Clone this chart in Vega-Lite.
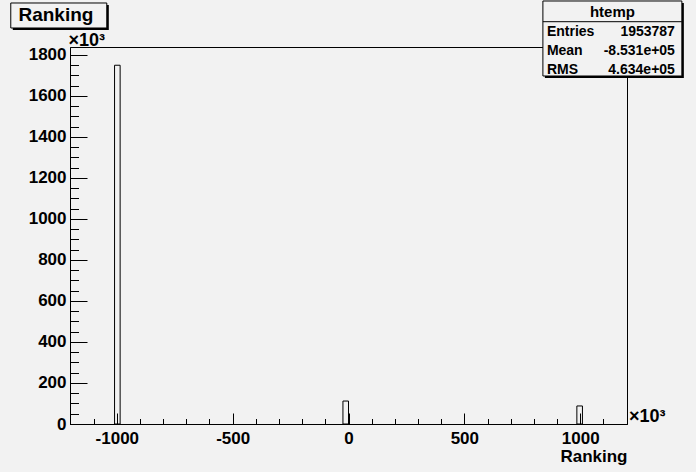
{
  "$schema": "https://vega.github.io/schema/vega-lite/v6.json",
  "width": 557,
  "height": 377,
  "autosize": {"type": "none"},
  "padding": {"left": 70, "top": 47, "right": 69, "bottom": 48},
  "background": "#f2f2f2",
  "config": {
    "view": {"stroke": "black", "strokeWidth": 1, "fill": "#f2f2f2"},
    "font": "Liberation Sans",
    "text": {"font": "Liberation Sans", "fontWeight": "bold", "color": "black"}
  },
  "layer": [
    {
      "data": {"values": [
        {"bin_start": -1009.7, "bin_end": -985.6, "count": 1750},
        {"bin_start": -24.0, "bin_end": 0.0, "count": 112},
        {"bin_start": 985.6, "bin_end": 1009.7, "count": 88}
      ]},
      "mark": {"type": "rect", "fillOpacity": 0, "stroke": "black", "strokeWidth": 1},
      "encoding": {
        "x": {"field": "bin_start", "type": "quantitative",
          "scale": {"domain": [-1202, 1202], "nice": false, "zero": false},
          "axis": {
            "values": [-1200,-1100,-1000,-900,-800,-700,-600,-500,-400,-300,-200,-100,0,100,200,300,400,500,600,700,800,900,1000,1100,1200],
            "tickCount": 200,
            "labelExpr": "datum.value % 500 === 0 ? '' + datum.value : ''",
            "tickSize": {"condition": {"test": "datum.value % 500 === 0", "value": -11}, "value": -5.5},
            "tickColor": "black", "tickWidth": 1, "domainColor": "black",
            "labelFont": "Liberation Sans", "labelFontWeight": "bold", "labelFontSize": 17, "labelColor": "black",
            "labelPadding": 17, "labelFlush": false, "labelOverlap": false, "grid": false,
            "title": "Ranking", "titleFont": "Liberation Sans", "titleFontWeight": "bold", "titleFontSize": 17,
            "titleColor": "black", "titleAnchor": "end", "titleAlign": "right", "titleBaseline": "alphabetic",
            "titleX": 557, "titleY": 37
          }},
        "x2": {"field": "bin_end"},
        "y": {"field": "count", "type": "quantitative",
          "scale": {"domain": [0, 1839], "nice": false},
          "axis": {
            "values": [0,50,100,150,200,250,300,350,400,450,500,550,600,650,700,750,800,850,900,950,1000,1050,1100,1150,1200,1250,1300,1350,1400,1450,1500,1550,1600,1650,1700,1750,1800],
            "tickCount": 200,
            "labelExpr": "datum.value % 200 === 0 ? '' + datum.value : ''",
            "tickSize": {"condition": {"test": "datum.value % 200 === 0", "value": -17}, "value": -8.5},
            "tickColor": "black", "tickWidth": 1, "domainColor": "black",
            "labelFont": "Liberation Sans", "labelFontWeight": "bold", "labelFontSize": 17, "labelColor": "black",
            "labelPadding": 21, "labelFlush": false, "labelOverlap": false, "grid": false,
            "title": "×10³", "titleFont": "Liberation Sans", "titleFontWeight": "bold", "titleFontSize": 18,
            "titleColor": "black", "titleAngle": 0, "titleAlign": "left", "titleBaseline": "alphabetic",
            "titleX": -2, "titleY": -2
          }},
        "y2": {"datum": 0}
      }
    },
    {
      "data": {"values": [{}]},
      "mark": {"type": "rect", "fill": "black"},
      "encoding": {"x": {"datum": -1449}, "x2": {"datum": -1034.5}, "y": {"datum": 2043.9}, "y2": {"datum": 1922}}
    },
    {
      "data": {"values": [{}]},
      "mark": {"type": "rect", "fill": "#f2f2f2", "stroke": "black", "strokeWidth": 1},
      "encoding": {"x": {"datum": -1457.6}, "x2": {"datum": -1043.2}, "y": {"datum": 2053.7}, "y2": {"datum": 1931.7}}
    },
    {
      "data": {"values": [{}]},
      "mark": {"type": "text", "text": "Ranking", "fontSize": 19, "align": "center", "baseline": "alphabetic"},
      "encoding": {"x": {"datum": -1262.8}, "y": {"datum": 1963.4}}
    },
    {
      "data": {"values": [{}]},
      "mark": {"type": "rect", "fill": "black"},
      "encoding": {"x": {"datum": 847.6}, "x2": {"datum": 1447.4}, "y": {"datum": 2053.7}, "y2": {"datum": 1687.8}}
    },
    {
      "data": {"values": [{}]},
      "mark": {"type": "rect", "fill": "#f2f2f2", "stroke": "black", "strokeWidth": 1},
      "encoding": {"x": {"datum": 839}, "x2": {"datum": 1438.8}, "y": {"datum": 2063.4}, "y2": {"datum": 1697.6}}
    },
    {
      "data": {"values": [{}]},
      "mark": {"type": "rule", "color": "black", "strokeWidth": 1},
      "encoding": {"x": {"datum": 839}, "x2": {"datum": 1438.8}, "y": {"datum": 1962.4}}
    },
    {
      "data": {"values": [{}]},
      "mark": {"type": "text", "text": "htemp", "fontSize": 15, "align": "center", "baseline": "alphabetic"},
      "encoding": {"x": {"datum": 1139}, "y": {"datum": 1985.4}}
    },
    {
      "data": {"values": [{}]},
      "mark": {"type": "text", "text": "Entries", "fontSize": 14, "align": "left", "baseline": "alphabetic"},
      "encoding": {"x": {"datum": 856.2}, "y": {"datum": 1892.7}}
    },
    {
      "data": {"values": [{}]},
      "mark": {"type": "text", "text": "1953787", "fontSize": 14, "align": "right", "baseline": "alphabetic"},
      "encoding": {"x": {"datum": 1408.8}, "y": {"datum": 1892.7}}
    },
    {
      "data": {"values": [{}]},
      "mark": {"type": "text", "text": "Mean", "fontSize": 14, "align": "left", "baseline": "alphabetic"},
      "encoding": {"x": {"datum": 856.2}, "y": {"datum": 1800}}
    },
    {
      "data": {"values": [{}]},
      "mark": {"type": "text", "text": "-8.531e+05", "fontSize": 14, "align": "right", "baseline": "alphabetic"},
      "encoding": {"x": {"datum": 1408.8}, "y": {"datum": 1800}}
    },
    {
      "data": {"values": [{}]},
      "mark": {"type": "text", "text": "RMS", "fontSize": 14, "align": "left", "baseline": "alphabetic"},
      "encoding": {"x": {"datum": 856.2}, "y": {"datum": 1707}}
    },
    {
      "data": {"values": [{}]},
      "mark": {"type": "text", "text": "4.634e+05", "fontSize": 14, "align": "right", "baseline": "alphabetic"},
      "encoding": {"x": {"datum": 1408.8}, "y": {"datum": 1707}}
    },
    {
      "data": {"values": [{}]},
      "mark": {"type": "text", "text": "×10³", "fontSize": 18, "align": "left", "baseline": "alphabetic", "dx": 2, "dy": -2},
      "encoding": {"x": {"datum": 1202}, "y": {"datum": 0}}
    }
  ]
}
